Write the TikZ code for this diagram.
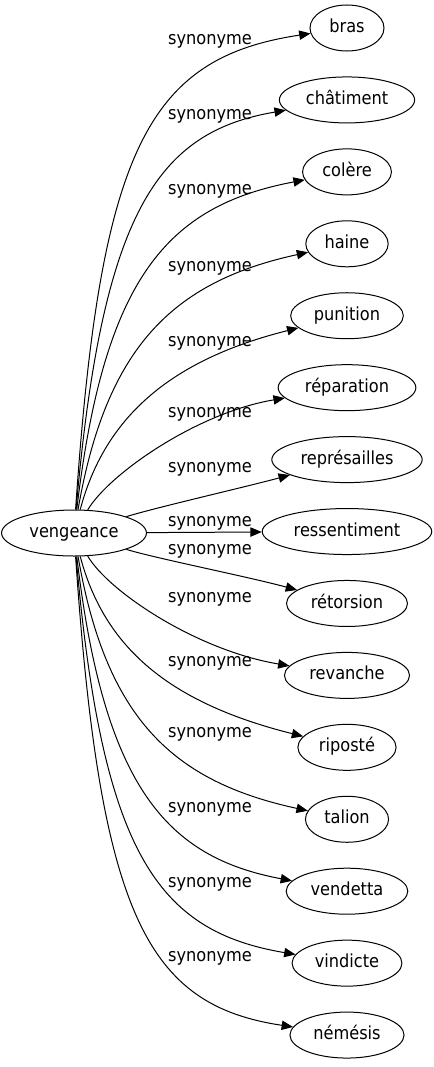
\documentclass[tikz,border=0pt]{standalone}
\usepackage{fontspec}
\setmainfont{DejaVu Sans Condensed}
\usepackage{tikz}
\usetikzlibrary{shapes.geometric, arrows.meta}
\tikzstyle{word} = [ellipse, draw=black, line width=0.75pt, inner xsep=5pt, inner ysep=2pt, minimum width=55.5pt, minimum height=34.5pt, text height=1.5ex, text depth=.25ex]
\tikzstyle{rel} = [inner sep=0pt, text height=1.5ex, text depth=.25ex]
\tikzstyle{arrow} = [line width=0.75pt, ->, >={Triangle[length=8.5pt,width=7pt]}]

\begin{document}
\begin{tikzpicture}[x=0.75pt, y=-0.75pt, node distance=53.95pt, font=\fontsize{13.5}{16}\selectfont]
        \useasboundingbox (0,0) rectangle (433,1067);
        \node (vengeance) [word] at (74,533) {vengeance};
        \node (bras) [word] at (347,28) {bras};
        \node (chatiment) [word, below of=bras] {châtiment};
        \node (colere) [word, below of=chatiment] {colère};
        \node (haine) [word, below of=colere] {haine};
        \node (punition) [word, below of=haine] {punition};
        \node (reparation) [word, below of=punition] {réparation};
        \node (represailles) [word, below of=reparation] {représailles};
        \node (ressentiment) [word, below of=represailles] {ressentiment};
        \node (retorsion) [word, below of=ressentiment] {rétorsion};
        \node (revanche) [word, below of=retorsion] {revanche};
        \node (riposte) [word, below of=revanche] {riposté};
        \node (talion) [word, below of=riposte] {talion};
        \node (vendetta) [word, below of=talion] {vendetta};
        \node (vindicte) [word, below of=vendetta] {vindicte};
        \node (nemesis) [word, below of=vindicte] {némésis};
        % edge labels
        \node (s1) [rel] at (210,40) {synonyme};
        \node (s2) [rel] at (210,115) {synonyme};
        \node (s3) [rel] at (210,190) {synonyme};
        \node (s4) [rel] at (210,267) {synonyme};
        \node (s5) [rel] at (210,342) {synonyme};
        \node (s6) [rel] at (210,413) {synonyme};
        \node (s7) [rel] at (210,468) {synonyme};
        \node (s8) [rel] at (210,522) {synonyme};
        \node (s9) [rel] at (210,550) {synonyme};
        \node (s10) [rel] at (210,598) {synonyme};
        \node (s11) [rel] at (210,662) {synonyme};
        \node (s12) [rel] at (210,733) {synonyme};
        \node (s13) [rel] at (210,808) {synonyme};
        \node (s14) [rel] at (210,883) {synonyme};
        \node (s15) [rel] at (210,957) {synonyme};
        % edges
        \draw [arrow] (vengeance) .. controls +(26,-383) and +(-200,30) .. (bras);
        \draw [arrow] (vengeance) .. controls +(28,-320) and +(-190,32) .. (chatiment);
        \draw [arrow] (vengeance) .. controls +(30,-255) and +(-180,34) .. (colere);
        \draw [arrow] (vengeance) .. controls +(32,-185) and +(-175,38) .. (haine);
        \draw [arrow] (vengeance) .. controls +(30,-113) and +(-180,45) .. (punition);
        \draw [arrow] (vengeance) .. controls +(35,-59) and +(-150,25) .. (reparation);
        \draw [arrow] (vengeance) .. controls +(80,-25) and +(-100,27) .. (represailles);
        \draw [arrow] (vengeance) -- (ressentiment);
        \draw [arrow] (vengeance) .. controls +(80,25) and +(-100,-27) .. (retorsion);
        \draw [arrow] (vengeance) .. controls +(35,59) and +(-150,-25) .. (revanche);
        \draw [arrow] (vengeance) .. controls +(30,113) and +(-180,-45) .. (riposte);
        \draw [arrow] (vengeance) .. controls +(32,185) and +(-175,-38) .. (talion);
        \draw [arrow] (vengeance) .. controls +(30,255) and +(-180,-34) .. (vendetta);
        \draw [arrow] (vengeance) .. controls +(28,320) and +(-190,-32) .. (vindicte);
        \draw [arrow] (vengeance) .. controls +(26,383) and +(-200,-30) .. (nemesis);
    \end{tikzpicture}
\end{document}
